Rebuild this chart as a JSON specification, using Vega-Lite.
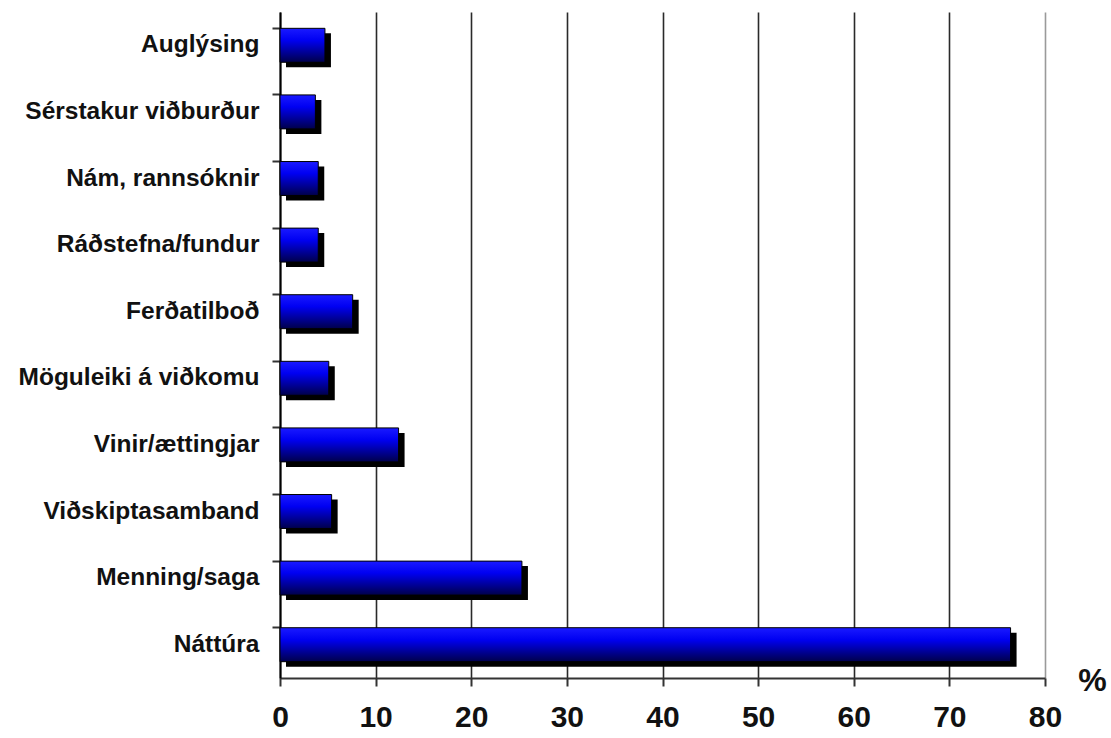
{
  "$schema": "https://vega.github.io/schema/vega-lite/v6.json",
  "width": 765,
  "height": 666,
  "autosize": "none",
  "padding": {"left": 280, "top": 12, "right": 66, "bottom": 60},
  "background": "white",
  "config": {
    "view": {"stroke": null},
    "font": "Liberation Sans"
  },
  "data": {
    "values": [
      {"reason": "Auglýsing", "pct": 4.7},
      {"reason": "Sérstakur viðburður", "pct": 3.7},
      {"reason": "Nám, rannsóknir", "pct": 4.0},
      {"reason": "Ráðstefna/fundur", "pct": 4.0},
      {"reason": "Ferðatilboð", "pct": 7.6},
      {"reason": "Möguleiki á viðkomu", "pct": 5.1},
      {"reason": "Vinir/ættingjar", "pct": 12.4},
      {"reason": "Viðskiptasamband", "pct": 5.4},
      {"reason": "Menning/saga", "pct": 25.3},
      {"reason": "Náttúra", "pct": 76.4}
    ]
  },
  "encoding": {
    "y": {
      "field": "reason",
      "type": "nominal",
      "sort": null,
      "scale": {"paddingInner": 0.49, "paddingOuter": 0.245},
      "axis": {
        "title": null,
        "bandPosition": 0,
        "domainColor": "#000000",
        "domainWidth": 2,
        "tickColor": "#333333",
        "tickWidth": 2,
        "tickSize": 8,
        "labelFont": "Liberation Sans",
        "labelFontWeight": "bold",
        "labelFontSize": 24.5,
        "labelColor": "#111111",
        "labelPadding": 13,
        "labelLimit": 400,
        "grid": false
      }
    },
    "x": {
      "field": "pct",
      "type": "quantitative",
      "scale": {"domain": [0, 80], "nice": false},
      "axis": {
        "values": [0, 10, 20, 30, 40, 50, 60, 70, 80],
        "title": "%",
        "titleFont": "Liberation Sans",
        "titleFontSize": 32,
        "titleFontWeight": "bold",
        "titleColor": "#111111",
        "titleX": 812,
        "titleY": 2,
        "titleBaseline": "middle",
        "titleAlign": "center",
        "domainColor": "#333333",
        "domainWidth": 2,
        "tickColor": "#333333",
        "tickWidth": 2,
        "tickSize": 8,
        "labelFont": "Liberation Sans",
        "labelFontWeight": "bold",
        "labelFontSize": 30,
        "labelColor": "#111111",
        "labelPadding": 16,
        "grid": true,
        "gridColor": {"condition": {"test": "datum.value === 80", "value": "#9a9a9a"}, "value": "#2a2a2a"},
        "gridWidth": 1.6,
        "labelFlush": false
      }
    }
  },
  "layer": [
    {
      "mark": {"type": "bar", "color": "#000000", "xOffset": 6, "yOffset": 5}
    },
    {
      "mark": {
        "type": "bar",
        "stroke": "#000000",
        "strokeWidth": 1,
        "color": {
          "gradient": "linear",
          "x1": 0, "y1": 0, "x2": 0, "y2": 1,
          "stops": [
            {"offset": 0, "color": "#1a1aff"},
            {"offset": 0.35, "color": "#0000f2"},
            {"offset": 1, "color": "#00004a"}
          ]
        }
      }
    }
  ]
}
